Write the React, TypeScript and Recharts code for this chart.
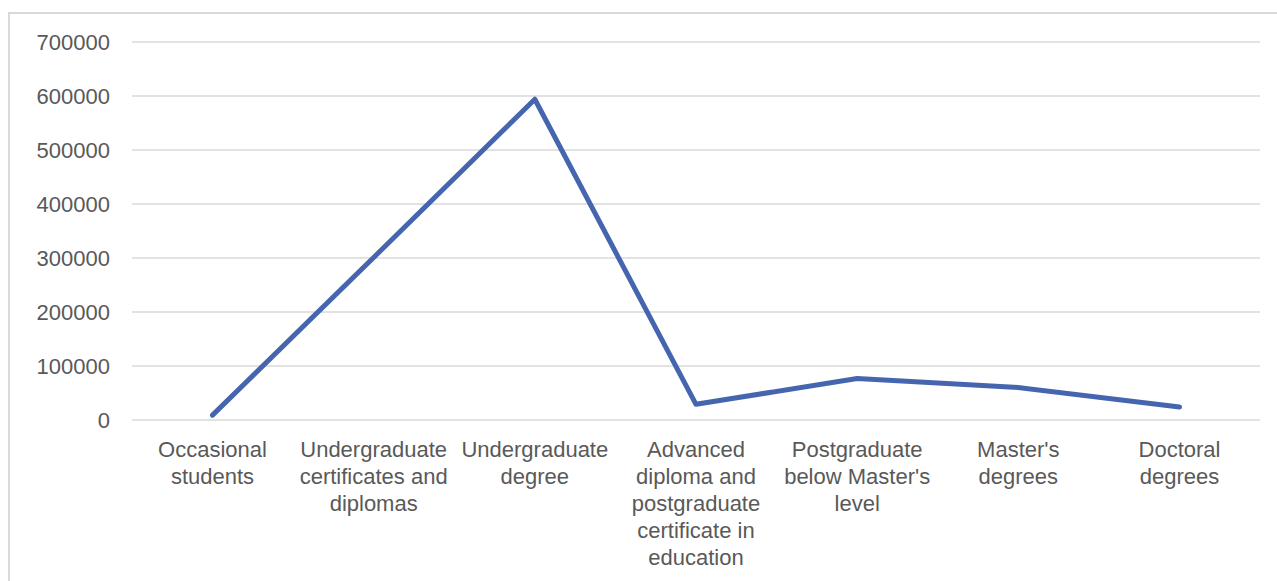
import { LineChart, Line, XAxis, YAxis, CartesianGrid } from 'recharts';

const categories = [
  'Occasional students',
  'Undergraduate certificates and diplomas',
  'Undergraduate degree',
  'Advanced diploma and postgraduate certificate in education',
  "Postgraduate below Master's level",
  "Master's degrees",
  'Doctoral degrees',
];

const students = [9000, 301000, 594000, 29000, 77000, 60000, 24000];

const yTicks = [0, 100000, 200000, 300000, 400000, 500000, 600000, 700000];

const data = categories.map((name, i) => ({ name, value: students[i] }));

const FONT = '"Liberation Sans", Arial, sans-serif';
const TEXT_COLOR = '#595959';
const FONT_SIZE = 22;

let ctx: CanvasRenderingContext2D | null = null;
const measure = (s: string) => {
  if (!ctx) {
    ctx = document.createElement('canvas').getContext('2d');
    if (ctx) ctx.font = `${FONT_SIZE}px ${FONT}`;
  }
  return ctx ? ctx.measureText(s).width : s.length * FONT_SIZE * 0.5;
};

const wrap = (text: string, maxWidth: number) => {
  const lines: string[] = [];
  let cur = '';
  text.split(' ').forEach((w) => {
    const next = cur ? `${cur} ${w}` : w;
    if (cur && measure(next) > maxWidth) {
      lines.push(cur);
      cur = w;
    } else {
      cur = next;
    }
  });
  if (cur) lines.push(cur);
  return lines;
};

const CategoryTick = (props: any) => {
  const { x, y, payload } = props;
  const lines = wrap(String(payload.value), 158);
  return (
    <text
      x={x}
      y={y}
      textAnchor="middle"
      fontSize={FONT_SIZE}
      fontFamily={FONT}
      fill={TEXT_COLOR}
    >
      {lines.map((l, i) => (
        <tspan key={i} x={x} dy={i === 0 ? '0.71em' : 27}>
          {l}
        </tspan>
      ))}
    </text>
  );
};

export default function App() {
  return (
    <div
      style={{
        position: 'fixed',
        left: 8,
        top: 12,
        width: 1269,
        height: 569,
        borderTop: '2px solid #d9d9d9',
        borderLeft: '2px solid #d9d9d9',
        background: '#fff',
      }}
    >
      <LineChart
        width={1267}
        height={567}
        data={data}
        margin={{ top: 28, right: 17, bottom: 0, left: 0 }}
      >
        <CartesianGrid vertical={false} stroke="#d9d9d9" strokeWidth={1.5} />
        <XAxis
          dataKey="name"
          axisLine={false}
          tickLine={false}
          tickSize={0}
          tickMargin={21}
          height={161}
          interval={0}
          padding={{ left: 80.5, right: 80.5 }}
          tick={<CategoryTick />}
        />
        <YAxis
          domain={[0, 700000]}
          ticks={yTicks}
          axisLine={false}
          tickLine={false}
          tickSize={0}
          tickMargin={22}
          width={122}
          tick={{ fontSize: FONT_SIZE, fontFamily: FONT, fill: TEXT_COLOR }}
        />
        <Line
          type="linear"
          dataKey="value"
          stroke="#4566AE"
          strokeWidth={5}
          strokeLinecap="round"
          strokeLinejoin="round"
          dot={false}
          activeDot={false}
          isAnimationActive={false}
        />
      </LineChart>
    </div>
  );
}
